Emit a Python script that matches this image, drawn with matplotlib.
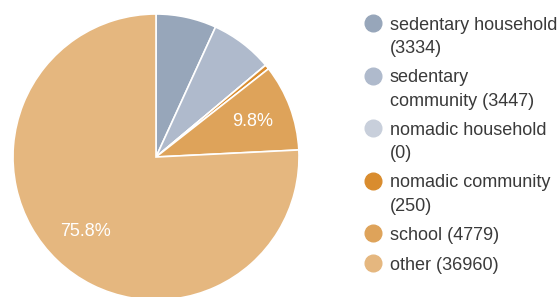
import matplotlib.pyplot as plt
from matplotlib.lines import Line2D

plt.rcParams['font.family'] = ['Liberation Sans', 'DejaVu Sans']

# data
names = ["sedentary household", "sedentary\ncommunity", "nomadic household",
         "nomadic community", "school", "other"]
counts = [3334, 3447, 0, 250, 4779, 36960]
wrap_value = [True, False, True, True, False, False]
colors = ["#97a6ba", "#afbacc", "#c8cfdb", "#d98c2e", "#dea35a", "#e5b77f"]

W, H = 558, 297
fig = plt.figure(figsize=(W / 100, H / 100), dpi=100)

# pie axes, sized in pixels so radius 1 == 143 px
cx, cy, r = 156, 157, 143
ax = fig.add_axes([(cx - r) / W, (H - cy - r) / H, 2 * r / W, 2 * r / H])


def pct_label(p):
    return f"{p:.1f}%" if p > 9 else ""


wedges, texts, autotexts = ax.pie(
    counts, colors=colors, startangle=90, counterclock=False,
    autopct=pct_label, pctdistance=0.72,
    wedgeprops=dict(edgecolor="white", linewidth=1.2),
    textprops=dict(color="white", fontsize=13))
ax.set_xlim(-1, 1)
ax.set_ylim(-1, 1)
ax.set_aspect("auto")
ax.axis("off")

# legend drawn by hand so the marker sits on the first line
y = 23
for name, n, wrap, c in zip(names, counts, wrap_value, colors):
    label = f"{name}\n({n})" if wrap else f"{name} ({n})"
    fig.add_artist(Line2D([373 / W], [1 - y / H], marker="o", markersize=12,
                          color=c, transform=fig.transFigure))
    fig.text(390 / W, 1 - (y - 6.5) / H, label, fontsize=13, color="#3a3a3a",
             va="top", ha="left", linespacing=1.52)
    nlines = label.count("\n") + 1
    y += 30 + (nlines - 1) * 22.5

fig.savefig("out.png", dpi=100)
